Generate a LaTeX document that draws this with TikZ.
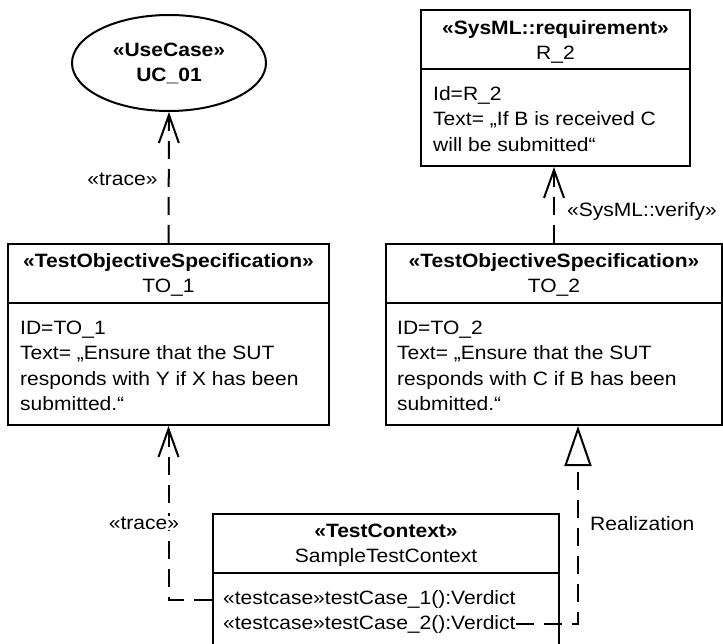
\documentclass[tikz,border=0pt]{standalone}
\usepackage{fontspec}
\setmainfont{Liberation Sans}[FakeStretch=1.09]
\usetikzlibrary{arrows.meta,shapes.geometric}
\begin{document}
\begin{tikzpicture}[x=1pt,y=-1pt,
  every node/.style={font=\fontsize{19.3}{25.3}\selectfont},
  box/.style={draw, line width=2pt, rectangle, inner sep=0pt},
  sep/.style={line width=2pt},
  txt/.style={inner sep=0pt, anchor=base west},
  ctxt/.style={inner sep=0pt, anchor=base},
  bld/.style={font=\fontsize{19.3}{25.3}\selectfont\bfseries},
  dep/.style={line width=2pt, dash pattern=on 18pt off 10pt,
    -{Straight Barb[length=28pt,width=20pt,line width=2pt]}},
  real/.style={line width=2pt, dash pattern=on 18pt off 10pt,
    -{Triangle[length=40pt,width=27pt,fill=white,line width=2pt]}},
  lbl/.style={inner sep=0pt}
]
\useasboundingbox (0,0) rectangle (723,644);
\clip (0,0) rectangle (723,644);

% Use case
\node[draw, ellipse, line width=2pt, minimum width=194pt, minimum height=96pt, inner sep=0pt] (uc) at (169,63) {};
\node[ctxt, bld] (ucst) at (169,57) {«UseCase»};
\node[ctxt, bld] (ucnm) at (169,82) {UC\_01};

% Requirement R_2
\node[box, minimum width=269pt, minimum height=156pt] (r2) at (555.5,88) {};
\draw[sep] (r2.north west) ++(0,60) -- ++(269,0);
\node[ctxt, bld] (r2st) at (555.5,35) {«SysML::requirement»};
\node[ctxt] (r2nm) at (555.5,60) {R\_2};
\node[txt] (r2a) at (433,100.5) {Id=R\_2};
\node[txt] (r2b) at (433,125.8) {Text= „If B is received C};
\node[txt] (r2c) at (433,151.1) {will be submitted“};

% TO_1
\node[box, minimum width=321pt, minimum height=181pt] (to1) at (168.5,334.5) {};
\draw[sep] (to1.north west) ++(0,60) -- ++(321,0);
\node[ctxt, bld] (to1st) at (168.5,267.5) {«TestObjectiveSpecification»};
\node[ctxt] (to1nm) at (168.5,293) {TO\_1};
\node[txt] (to1a) at (20,334.5) {ID=TO\_1};
\node[txt] (to1b) at (20,359.8) {Text= „Ensure that the SUT};
\node[txt] (to1c) at (20,385.1) {responds with Y if X has been};
\node[txt] (to1d) at (20,410.4) {submitted.“};

% TO_2
\node[box, minimum width=336pt, minimum height=181pt] (to2) at (554,334.5) {};
\draw[sep] (to2.north west) ++(0,60) -- ++(336,0);
\node[ctxt, bld] (to2st) at (554,267.5) {«TestObjectiveSpecification»};
\node[ctxt] (to2nm) at (554,293) {TO\_2};
\node[txt] (to2a) at (397,334.5) {ID=TO\_2};
\node[txt] (to2b) at (397,359.8) {Text= „Ensure that the SUT};
\node[txt] (to2c) at (397,385.1) {responds with C if B has been};
\node[txt] (to2d) at (397,410.4) {submitted.“};

% Test context
\node[box, minimum width=346pt, minimum height=166pt] (tc) at (386,597) {};
\draw[sep] (tc.north west) ++(0,60) -- ++(346,0);
\node[ctxt, bld] (tcst) at (386,537) {«TestContext»};
\node[ctxt] (tcnm) at (386,562) {SampleTestContext};
\node[txt] (row1) at (223,604.5) {«testcase»testCase\_1():Verdict};
\node[txt] (row2) at (223,629) {«testcase»testCase\_2():Verdict};

% Connectors
\draw[dep] (to1.north) -- (uc.south);
\draw[dep] (to2.north) -- (to2.north |- r2.south);
\draw[dep] (tc.west |- row1.west) -| (to1.south);
\coordinate (rz) at ([xshift=24pt]to2.south);
\draw[real] (row2.east) -| (rz);

% Labels
\node[lbl, anchor=base] (l1) at (122.5,185.5) {«trace»};
\node[lbl, anchor=base west] (l2) at (567,216.5) {«SysML::verify»};
\node[lbl, anchor=base, fill=white, inner sep=1pt] (l3) at (144,529) {«trace»};
\node[lbl, anchor=base west] (l4) at (590,530) {Realization};
\end{tikzpicture}
\end{document}
